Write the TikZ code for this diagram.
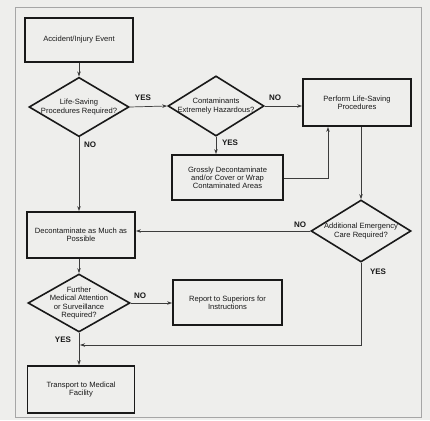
\documentclass[tikz,border=0pt]{standalone}
\usepackage{fontspec}
\setmainfont{Liberation Sans}
\usetikzlibrary{shapes.geometric,arrows.meta}
\definecolor{bg}{RGB}{238,238,236}
\definecolor{ink}{RGB}{25,25,25}
\tikzset{
  boxnode/.style={draw=ink, line width=1.8pt, rectangle, align=center, inner sep=1pt,
    font=\fontsize{7.6}{8.2}\selectfont, text=ink},
  decnode/.style={draw=ink, line width=1.6pt, diamond, align=center, inner sep=-8pt,
    font=\fontsize{7.6}{8.2}\selectfont, text=ink},
  conn/.style={draw=ink!85, line width=0.7pt, -{Stealth[length=5pt,width=3.5pt]}},
  lab/.style={font=\bfseries\fontsize{8}{9}\selectfont, text=ink}
}
\begin{document}
\begin{tikzpicture}[x=1pt,y=-1pt]
\useasboundingbox[fill=bg] (0,0) rectangle (430,420);
\draw[gray!70, line width=0.8pt] (15,7) rectangle (421,417);

\node[boxnode, minimum width=108pt, minimum height=44pt] (acc) at (79,40) {Accident/Injury Event};
\node[decnode, minimum width=100pt, minimum height=55pt] (ls) at (79,107) {Life-Saving\\Procedures Required?};
\node[decnode, minimum width=96pt, minimum height=54pt] (ch) at (216,106) {Contaminants\\Extremely Hazardous?};
\node[boxnode, minimum width=108pt, minimum height=47pt] (perf) at (357,102.5) {Perform Life-Saving\\Procedures};
\node[boxnode, minimum width=111pt, minimum height=45pt] (gross) at (227.5,177.5) {Grossly Decontaminate\\and/or Cover or Wrap\\Contaminated Areas};
\node[decnode, minimum width=100pt, minimum height=62pt] (add) at (361,231) {Additional Emergency\\Care Required?};
\node[boxnode, minimum width=108pt, minimum height=46pt] (dec) at (81,235) {Decontaminate as Much as\\Possible};
\node[decnode, minimum width=102pt, minimum height=58pt] (fm) at (79,303) {Further\\Medical Attention\\or Surveillance\\Required?};
\node[boxnode, minimum width=109pt, minimum height=45pt] (rep) at (227.5,302.5) {Report to Superiors for\\Instructions};
\node[boxnode, minimum width=107pt, minimum height=47pt] (tr) at (81,389.5) {Transport to Medical\\Facility};

\coordinate (m1) at (328,178);
\coordinate (y1) at (361,345);
\coordinate (y2) at (79,345);

\draw[conn] (acc.south -| ls.north) -- (ls.north);
\draw[conn] (ls.east) -- (ch.west);
\draw[conn] (ch.east) -- (ch.east -| perf.west);
\draw[conn] (ch.south) -- (ch.south |- gross.north);
\draw[conn] (gross.east |- m1) -- (m1) -- (m1 |- perf.south);
\draw[conn] (add.north |- perf.south) -- (add.north);
\draw[conn] (add.west) -- (add.west -| dec.east);
\draw[conn] (ls.south) -- (ls.south |- dec.north);
\draw[conn] (dec.south -| fm.north) -- (fm.north);
\draw[conn] (fm.east) -- (fm.east -| rep.west);
\draw[conn] (fm.south) -- (fm.south |- tr.north);
\draw[conn] (add.south) -- (y1) -- ([xshift=1pt]y2);

\node[lab] (lyes1) at (143,98) {YES};
\node[lab] (lno1) at (275,98) {NO};
\node[lab] (lyes2) at (230,143) {YES};
\node[lab] (lno2) at (90,145) {NO};
\node[lab] (lno3) at (300,225) {NO};
\node[lab] (lyes3) at (378,272) {YES};
\node[lab] (lno4) at (140,296) {NO};
\node[lab] (lyes4) at (63,340) {YES};
\end{tikzpicture}
\end{document}
